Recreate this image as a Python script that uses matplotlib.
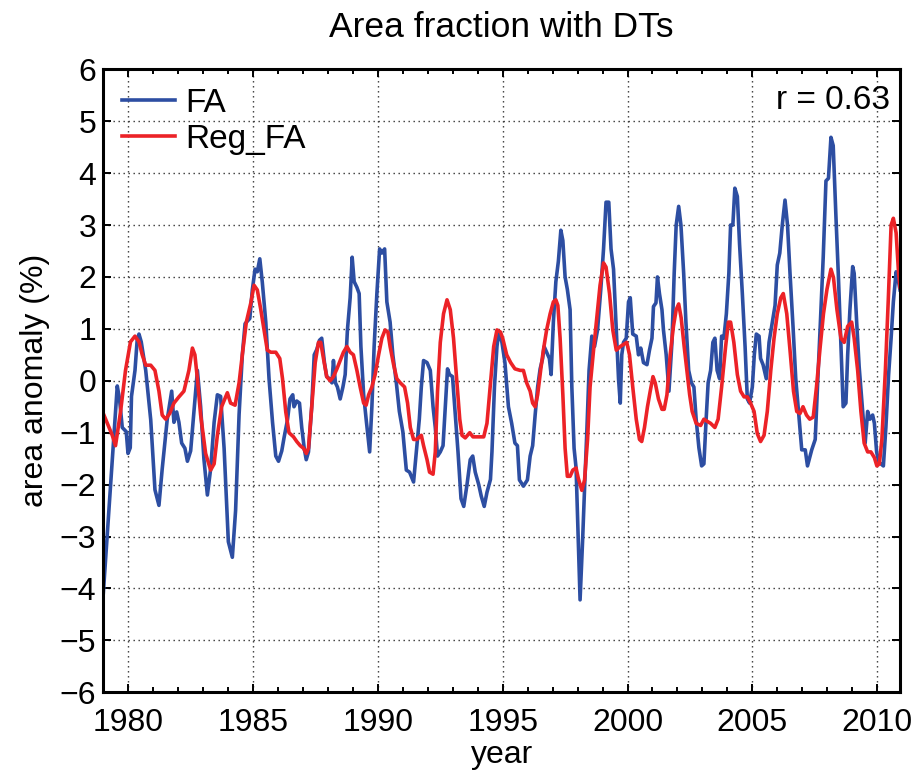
import numpy as np
import matplotlib
matplotlib.use('Agg')
import matplotlib.pyplot as plt
from matplotlib.ticker import MultipleLocator

plt.rcParams['font.family'] = ['Liberation Sans', 'DejaVu Sans']

# FA (blue), values
fa_year = [1979.0, 1979.56, 1979.65, 1979.76, 1979.92, 1979.99, 1980.08, 1980.13, 1980.27, 1980.36,
           1980.43, 1980.52, 1980.70, 1980.90, 1981.07, 1981.23, 1981.36, 1981.56, 1981.74, 1981.83,
           1981.94, 1982.03, 1982.14, 1982.27, 1982.37, 1982.50, 1982.63, 1982.77, 1982.90, 1983.03,
           1983.17, 1983.30, 1983.44, 1983.57, 1983.70, 1983.84, 1984.01, 1984.17, 1984.30, 1984.44,
           1984.57, 1984.68, 1984.87, 1984.97, 1985.08, 1985.17, 1985.27, 1985.37, 1985.51, 1985.64,
           1985.78, 1985.91, 1986.02, 1986.15, 1986.24, 1986.38,
           1986.48, 1986.59, 1986.64, 1986.75, 1986.86, 1986.95, 1987.05, 1987.13, 1987.22, 1987.35,
           1987.45, 1987.55, 1987.66, 1987.75, 1987.86, 1987.95, 1988.06, 1988.16, 1988.22, 1988.30,
           1988.38, 1988.49, 1988.60, 1988.69, 1988.78, 1988.89, 1988.97, 1989.05, 1989.16, 1989.25,
           1989.32, 1989.43, 1989.53, 1989.67, 1989.76, 1989.85, 1989.96, 1990.07, 1990.16, 1990.27,
           1990.36, 1990.49, 1990.60, 1990.74, 1990.86, 1991.00, 1991.14, 1991.27, 1991.43, 1991.54,
           1991.66, 1991.74, 1991.83, 1991.97, 1992.10, 1992.21, 1992.30, 1992.39, 1992.50, 1992.61,
           1992.70, 1992.79, 1992.87, 1992.99, 1993.10, 1993.21, 1993.33, 1993.44, 1993.57, 1993.70,
           1993.80, 1993.90, 1994.04, 1994.14, 1994.26, 1994.37, 1994.51, 1994.57, 1994.67, 1994.77,
           1994.84, 1994.97,
           1995.09, 1995.23, 1995.36, 1995.49, 1995.59, 1995.67, 1995.83, 1995.99, 1996.10, 1996.20,
           1996.30, 1996.40, 1996.50, 1996.60, 1996.66, 1996.76, 1996.87, 1996.94, 1997.03, 1997.13,
           1997.23, 1997.33, 1997.41, 1997.50, 1997.59, 1997.70, 1997.77, 1997.86, 1997.94, 1998.03,
           1998.10, 1998.20, 1998.28, 1998.37, 1998.46, 1998.57, 1998.68, 1998.80, 1998.93, 1999.04,
           1999.14, 1999.25, 1999.34, 1999.44, 1999.55, 1999.64, 1999.71, 1999.77, 1999.84, 1999.95,
           2000.04, 2000.11, 2000.21, 2000.35, 2000.44, 2000.53, 2000.64, 2000.78, 2000.88, 2000.98,
           2001.04, 2001.14, 2001.20, 2001.28, 2001.38, 2001.44, 2001.55, 2001.66, 2001.78, 2001.87,
           2001.95, 2002.05, 2002.14, 2002.25, 2002.34, 2002.45,
           2002.56, 2002.66, 2002.75, 2002.86, 2002.97, 2003.06, 2003.15, 2003.23, 2003.33, 2003.42,
           2003.50, 2003.59, 2003.69, 2003.77, 2003.86, 2003.96, 2004.06, 2004.13, 2004.22, 2004.30,
           2004.40, 2004.49, 2004.60, 2004.71, 2004.80, 2004.89, 2005.00, 2005.08, 2005.16, 2005.27,
           2005.33, 2005.43, 2005.56, 2005.67, 2005.80, 2005.91, 2006.00, 2006.10, 2006.20, 2006.31,
           2006.41, 2006.51, 2006.63, 2006.74, 2006.85, 2006.98, 2007.12, 2007.21, 2007.30, 2007.38,
           2007.52, 2007.61, 2007.72, 2007.84, 2007.95, 2008.05, 2008.15, 2008.24, 2008.35, 2008.45,
           2008.55, 2008.64, 2008.75, 2008.82, 2008.91, 2009.02, 2009.08, 2009.18, 2009.28, 2009.42,
           2009.52, 2009.62, 2009.71, 2009.82, 2009.89, 2009.98, 2010.06, 2010.15, 2010.25, 2010.35,
           2010.46, 2010.56, 2010.65, 2010.76, 2010.86, 2010.917]
fa_val = [-4.1, -0.1, -0.35, -0.9, -0.98, -1.4, -1.29, -0.3, 0.2, 0.8,
          0.9, 0.75, 0.2, -0.75, -2.1, -2.4, -1.7, -0.75, -0.2, -0.8,
          -0.6, -0.8, -1.2, -1.3, -1.55, -1.35, -0.6, 0.2, -0.5, -1.5,
          -2.2, -1.7, -0.8, -0.27, -0.3, -1.3, -3.1, -3.4, -2.5, -0.65,
          0.5, 1.1, 1.2, 1.75, 2.15, 2.1, 2.35, 1.9, 1.13, 0.04,
          -0.8, -1.45, -1.55, -1.35, -1.1, -0.75,
          -0.35, -0.27, -0.5, -0.39, -0.43, -0.9, -1.3, -1.52, -1.37, -0.5,
          0.5, 0.6, 0.78, 0.82, 0.35, 0.08, 0.04, -0.04, 0.39, -0.04,
          -0.12, -0.35, -0.12, 0.12, 0.98, 1.6, 2.38, 1.91, 1.8, 1.68,
          0.66, -0.27, -0.74, -1.37, -0.5, 0.66, 1.68, 2.54, 2.46, 2.54,
          1.52, 1.13, 0.5, -0.04, -0.59, -0.98, -1.72, -1.76, -1.95, -1.37,
          -0.74, -0.12, 0.39, 0.35, 0.2, -0.5, -0.9, -1.45, -1.37, -1.25,
          -0.5, 0.23, 0.12, 0.08, -0.66, -1.37, -2.27, -2.42, -2.0, -1.52,
          -1.45, -1.76, -2.0, -2.22, -2.42, -2.15, -1.9, -1.37, -0.12, 0.66,
          0.94, 0.74,
          0.35, -0.5, -0.82, -1.2, -1.25, -1.91, -2.03, -1.91, -1.45, -1.25,
          -0.66, -0.12, 0.23, 0.43, 0.66, 0.55, 0.43, 0.12, 1.13, 1.91,
          2.3, 2.9, 2.7, 2.0, 1.76, 1.37, -0.12, -1.3, -1.68, -3.09,
          -4.22, -3.09, -2.07, -0.98, 0.2, 0.86, 0.66, 0.98, 1.76, 2.54,
          3.44, 3.44, 2.54, 2.15, 0.98, 0.04, -0.43, 0.5, 0.74, 0.82,
          1.52, 1.6, 0.9, 0.86, 0.5, 0.63, 0.35, 0.31, 0.59, 0.82,
          1.43, 1.5, 2.0, 1.68, 1.37, 0.98, 0.5, -0.2, 0.74, 2.07,
          3.0, 3.36, 3.0, 2.07, 1.13, 0.2,
          -0.04, -0.12, -0.74, -1.29, -1.64, -1.6, -0.74, -0.04, 0.2, 0.74,
          0.82, 0.2, 0.04, 0.86, 0.82, 1.29, 2.07, 3.0, 3.0, 3.71,
          3.55, 2.62, 1.68, 0.66, -0.35, -0.43, -0.12, 0.5, 0.9, 0.86,
          0.43, 0.31, 0.04, 0.74, 1.13, 1.45, 2.23, 2.46, 3.0, 3.48,
          3.0, 2.07, 1.05, 0.04, -0.59, -1.33, -1.33, -1.64, -1.48, -1.33,
          -1.13, -0.12, 1.05, 2.38, 3.85, 3.9, 4.69, 4.53, 3.16, 1.99,
          0.66, -0.5, -0.43, 0.5, 1.37, 2.2, 2.07, 1.13, 0.27, -0.59,
          -1.2, -0.59, -0.74, -0.66, -0.82, -1.37, -1.56, -1.6, -1.64, -0.9,
          0.12, 0.82, 1.52, 2.1, 1.9, 1.75]

# Reg_FA (red)
reg_year = [1979.0, 1979.36, 1979.49, 1979.69, 1979.89, 1980.09, 1980.27, 1980.43, 1980.56, 1980.70,
            1980.90, 1981.07, 1981.23, 1981.36, 1981.50, 1981.66, 1981.83, 1982.03, 1982.23, 1982.43,
            1982.57, 1982.67, 1982.77, 1982.90, 1983.10, 1983.30, 1983.44, 1983.57, 1983.74, 1983.97,
            1984.10, 1984.28, 1984.44, 1984.57, 1984.73, 1984.91, 1985.04, 1985.17, 1985.31, 1985.44,
            1985.57, 1985.71, 1985.91, 1986.07, 1986.18, 1986.31, 1986.44,
            1986.62, 1986.75, 1986.89, 1987.02, 1987.13, 1987.22, 1987.35, 1987.49, 1987.62, 1987.71,
            1987.82, 1987.95, 1988.09, 1988.22, 1988.36, 1988.49, 1988.62, 1988.76, 1988.89, 1989.02,
            1989.16, 1989.29, 1989.43, 1989.53, 1989.63, 1989.76, 1989.89, 1990.03, 1990.16, 1990.29,
            1990.40, 1990.49, 1990.63, 1990.76, 1990.90, 1991.07, 1991.19, 1991.30, 1991.43, 1991.56,
            1991.74, 1991.83, 1991.97, 1992.07, 1992.21, 1992.30, 1992.39, 1992.50, 1992.63, 1992.77,
            1992.90, 1993.03, 1993.17, 1993.28, 1993.37, 1993.50, 1993.68, 1993.81, 1993.97, 1994.10,
            1994.24, 1994.37, 1994.51, 1994.64, 1994.77, 1994.91,
            1995.0, 1995.16, 1995.32, 1995.49, 1995.70, 1995.83, 1995.96, 1996.10, 1996.20, 1996.30,
            1996.40, 1996.52, 1996.63, 1996.76, 1996.90, 1997.03, 1997.13, 1997.21, 1997.30, 1997.41,
            1997.50, 1997.59, 1997.70, 1997.81, 1997.94, 1998.03, 1998.17, 1998.28, 1998.40, 1998.50,
            1998.64, 1998.77, 1998.90, 1999.04, 1999.14, 1999.28, 1999.41, 1999.55, 1999.71, 1999.84,
            1999.97, 2000.08, 2000.21, 2000.35, 2000.48, 2000.57, 2000.68, 2000.80, 2000.91, 2001.02,
            2001.11, 2001.24, 2001.38, 2001.47, 2001.58, 2001.71, 2001.84, 2001.95, 2002.05, 2002.15,
            2002.27, 2002.38, 2002.49,
            2002.59, 2002.75, 2002.93, 2003.06, 2003.19, 2003.33, 2003.50, 2003.63, 2003.77, 2003.93,
            2004.04, 2004.13, 2004.26, 2004.40, 2004.53, 2004.67, 2004.80, 2004.93, 2005.07, 2005.20,
            2005.33, 2005.47, 2005.60, 2005.74, 2005.87, 2006.00, 2006.14, 2006.24, 2006.38, 2006.51,
            2006.65, 2006.78, 2006.91, 2007.03, 2007.17, 2007.30, 2007.44, 2007.57, 2007.72, 2007.85,
            2007.99, 2008.15, 2008.25, 2008.39, 2008.55, 2008.68, 2008.82, 2008.98, 2009.08, 2009.22,
            2009.35, 2009.48, 2009.62, 2009.75, 2009.89, 2009.99, 2010.09, 2010.19, 2010.33, 2010.45,
            2010.56, 2010.65, 2010.76, 2010.86, 2010.917]
reg_val = [-0.63, -1.05, -1.25, -0.6, 0.2, 0.75, 0.86, 0.75, 0.5, 0.3,
           0.3, 0.2, -0.2, -0.66, -0.74, -0.63, -0.43, -0.31, -0.2, 0.2,
           0.63, 0.5, 0.04, -0.66, -1.4, -1.72, -1.6, -1.05, -0.5, -0.23,
           -0.43, -0.47, -0.04, 0.5, 1.13, 1.5, 1.84, 1.75, 1.37, 0.98,
           0.59, 0.55, 0.55, 0.43, 0.04, -0.6, -1.0,
           -1.08, -1.17, -1.25, -1.3, -1.4, -1.3, -0.5, 0.35, 0.74, 0.74,
           0.43, 0.08, 0.0, 0.08, 0.23, 0.39, 0.55, 0.66, 0.55, 0.5,
           0.2, -0.12, -0.43, -0.47, -0.27, -0.12, 0.12, 0.5, 0.82, 0.98,
           0.94, 0.66, 0.31, 0.04, -0.04, -0.12, -0.43, -0.9, -1.13, -1.13,
           -1.05, -1.25, -1.52, -1.76, -1.8, -1.37, -0.2, 0.74, 1.29, 1.56,
           1.37, 0.82, -0.04, -0.74, -1.05, -1.1, -1.0, -1.08, -1.08, -1.08,
           -1.08, -0.82, -0.04, 0.66, 0.98, 0.94,
           0.82, 0.5, 0.35, 0.23, 0.2, 0.2, -0.04, -0.2, -0.43, -0.5,
           -0.27, 0.2, 0.59, 0.98, 1.29, 1.52, 1.56, 1.45, 0.82, -0.27,
           -1.3, -1.84, -1.84, -1.72, -1.68, -1.88, -2.11, -1.91, -1.13, -0.12,
           0.59, 1.21, 1.84, 2.27, 2.19, 1.68, 0.98, 0.59, 0.66, 0.7,
           0.74, 0.5, -0.12, -0.74, -1.13, -1.17, -0.9, -0.5, -0.2, 0.08,
           -0.04, -0.35, -0.55, -0.55, -0.27, 0.5, 1.05, 1.37, 1.48, 1.21,
           0.66, 0.2, -0.27,
           -0.59, -0.82, -0.86, -0.74, -0.78, -0.82, -0.9, -0.74, -0.12, 0.66,
           1.13, 1.13, 0.74, 0.12, -0.2, -0.31, -0.31, -0.43, -0.59, -1.02,
           -1.17, -1.05, -0.59, 0.2, 0.82, 1.29, 1.6, 1.68, 1.29, 0.59,
           -0.2, -0.59, -0.63, -0.5, -0.66, -0.74, -0.7, -0.12, 0.66, 1.29,
           1.76, 2.15, 1.99, 1.37, 0.82, 0.74, 1.05, 1.13, 0.82, 0.2,
           -0.59, -1.2, -1.37, -1.37, -1.48, -1.64, -1.6, -1.13, 0.2, 1.6,
           3.0, 3.13, 2.85, 2.07, 1.8]

r_text = 'r = 0.63'
xticks = [1980, 1985, 1990, 1995, 2000, 2005, 2010]
yticks = list(range(-6, 7))

fig = plt.figure(figsize=(9.23, 7.76), dpi=100)
ax = fig.add_axes([0.1119, 0.1079, 0.8632, 0.8028])

ax.plot(fa_year, fa_val, color='#2D4EA2', lw=2.6, label='FA')
ax.plot(reg_year, reg_val, color='#EC2227', lw=2.6, label='Reg_FA')

ax.set_xlim(1979, 2010 + 11 / 12)
ax.set_ylim(-6, 6)
ax.set_xticks(xticks)
ax.set_yticks(yticks)
ax.xaxis.set_minor_locator(MultipleLocator(1))
ax.tick_params(which='both', direction='in', top=True, right=True, width=1.4, labelsize=23)
ax.tick_params(which='major', length=6)
ax.tick_params(which='minor', length=3.5)
ax.tick_params(axis='x', pad=11.5)
ax.tick_params(axis='y', pad=5)
for s in ax.spines.values():
    s.set_linewidth(2.2)
ax.grid(True, which='major', color='0.2', linestyle=(0, (1, 2.6)), linewidth=1)

ax.set_title('Area fraction with DTs', fontsize=25.5, pad=23)
ax.set_xlabel('year', fontsize=23, labelpad=1.5)
ax.set_ylabel('area anomaly (%)', fontsize=23, labelpad=7)

ax.legend(loc='upper left', bbox_to_anchor=(0.0, 1.0), frameon=False, fontsize=24,
          handlelength=1.6, handletextpad=0.3, labelspacing=0.15, borderpad=0.35,
          borderaxespad=0.2)
ax.text(0.987, 0.937, r_text, transform=ax.transAxes, ha='right', va='baseline', fontsize=24)

fig.savefig('out.png', dpi=100)
